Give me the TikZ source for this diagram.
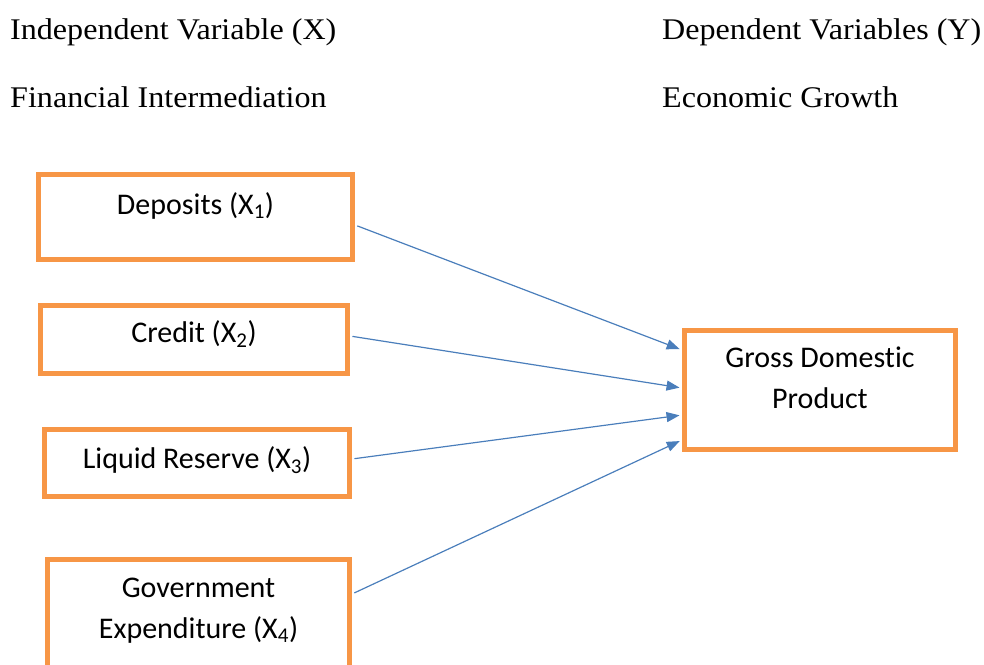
\documentclass[tikz,border=0pt]{standalone}
\usepackage{fontspec}
\newfontfamily\headfont[FakeStretch = 1.07]{Liberation Serif}
\newfontfamily\boxfont[RawFeature = {-liga;-dlig;-clig}]{Carlito}
\usetikzlibrary{arrows.meta}
\definecolor{boxorange}{HTML}{F79646}
\definecolor{arrowblue}{HTML}{4A7EBB}
\tikzset{
	box/.style = {draw = boxorange, line width = 5pt, inner sep = 0pt},
	boxtext/.style = {font = \boxfont\fontsize{30}{41}\selectfont, align = center, anchor = base, inner sep = 0pt},
	head/.style = {font = \headfont\fontsize{30}{36}\selectfont, anchor = base west, inner sep = 0pt},
	link/.style = {arrowblue, line width = 1.2pt, -{Triangle[length = 13pt, width = 10pt]}, shorten <= 2.5pt, shorten >= 2.5pt}
}
\begin{document}
\begin{tikzpicture}[x = 1pt, y = -1pt]
		\useasboundingbox (0,0) rectangle (984,664);
		\clip (0,0) rectangle (984,664);
		% headings
		\node [head] (indep) at (10,39) {Independent Variable (X)};
		\node [head] (dep) at (662,39) {Dependent Variables (Y)};
		\node [head] (fin) at (10,107) {Financial Intermediation};
		\node [head] (econ) at (662,107) {Economic Growth};
		% boxes
		\node [box, minimum width = 314pt, minimum height = 85pt] (deposits) at (195.5,217) {};
		\node [box, minimum width = 307pt, minimum height = 68pt] (credit) at (194,339.5) {};
		\node [box, minimum width = 305pt, minimum height = 67pt] (liquid) at (197,463) {};
		\node [box, minimum width = 302pt, minimum height = 131pt] (govt) at (198.5,625) {};
		\node [box, minimum width = 271pt, minimum height = 119pt] (gdp) at (820,390) {};
		\node [boxtext] (depositstext) at ([yshift = 3pt]deposits.center) {Deposits (X\textsubscript{1})};
		\node [boxtext] (credittext) at ([yshift = -2.5pt]credit.center) {Credit (X\textsubscript{2})};
		\node [boxtext] (liquidtext) at ([yshift = -5pt]liquid.center) {Liquid Reserve (X\textsubscript{3})};
		\node [boxtext] (govttext) at ([yshift = -13pt]govt.center) {Government\\Expenditure (X\textsubscript{4})};
		\node [boxtext] (gdptext) at ([yshift = -18pt]gdp.center) {Gross Domestic\\Product};
		% arrows
		\draw [link] ([yshift = -8pt]deposits.east) -- ([yshift = 40pt]gdp.west);
		\draw [link] ([yshift = 3.5pt]credit.east) -- ([yshift = 2pt]gdp.west);
		\draw [link] ([yshift = 4pt]liquid.east) -- ([yshift = -25pt]gdp.west);
		\draw [link] ([yshift = 31pt]govt.east) -- ([yshift = -50pt]gdp.west);
	\end{tikzpicture}
\end{document}
